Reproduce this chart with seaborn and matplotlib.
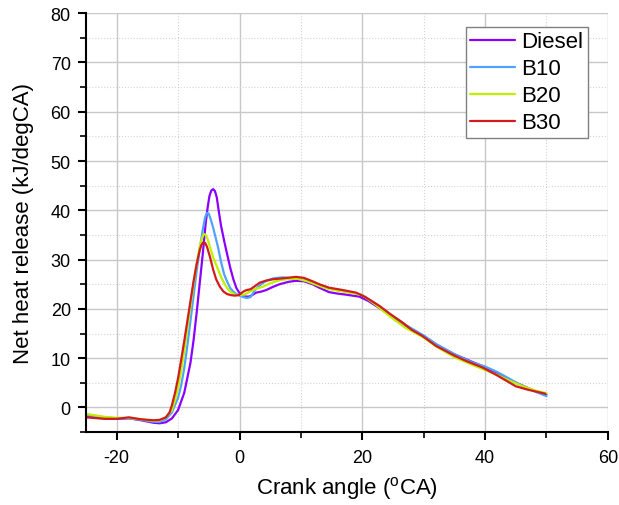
import matplotlib
matplotlib.use("Agg")
import matplotlib.pyplot as plt
import seaborn as sns
import pandas as pd
from matplotlib.ticker import MultipleLocator

# --- Data (crank angle, net heat release) ---
diesel_x = [-25, -22, -20, -18, -16, -14, -13, -12, -11, -10, -9, -8, -7.5, -7, -6.5, -6, -5.5, -5.2,
            -4.9, -4.6, -4.3, -4.0, -3.7, -3.4, -3.0, -2.5, -2, -1.5, -1, -0.5, 0, 0.5, 1, 1.6, 2.2,
            2.7, 3.5, 4.3, 5.5, 6.5, 8, 9.2, 10.5, 11.9, 13, 14.6, 16, 17.3, 19.5, 21, 23, 25, 27,
            30, 32, 35, 38, 40, 42, 44, 46, 48, 50]
diesel_y = [-1.8, -2.2, -2.3, -2.2, -2.6, -3.1, -3.2, -3.0, -2.2, -0.5, 3.0, 9.0, 13.5, 19, 25, 31, 37.5,
            40.5, 42.9, 44.0, 44.3, 43.9, 42.6, 40, 36.8, 33.8, 31, 28.3, 26, 24.2, 23.2, 22.7, 22.5,
            22.5, 22.9, 23.3, 23.5, 23.8, 24.5, 25, 25.5, 25.7, 25.6, 25.0, 24.3, 23.4, 23.1, 22.9,
            22.5, 21.6, 20, 18.3, 16.6, 14.5, 12.8, 10.8, 9.2, 8.2, 7.0, 5.6, 4.5, 3.4, 2.6]

b10_x = [-25, -22, -20, -18, -16, -14, -13, -12, -11, -10, -9.5, -9, -8.5, -8, -7.5, -7, -6.5, -6,
         -5.6, -5.3, -5.0, -4.7, -4.3, -3.5, -3, -2.5, -2, -1.5, -1, -0.5, 0, 0.6, 1.2, 1.8, 2.5,
         3.5, 4.5, 5.5, 7, 9, 10.5, 12, 14, 16, 18, 20, 22, 25, 27, 30, 32, 35, 38, 40, 42, 44,
         46, 48, 50]
b10_y = [-1.5, -2.0, -2.2, -2.2, -2.5, -2.9, -2.9, -2.4, -1.0, 2, 4.5, 8, 12.5, 17.5, 22.5, 27.5, 32,
         36, 38.6, 39.5, 39.3, 38.2, 36.5, 32.5, 29.5, 27, 25.5, 24.2, 23.5, 23, 22.7, 22.4, 22.2,
         22.4, 23.8, 25, 25.8, 26.2, 26.4, 26.2, 25.9, 25.3, 24.4, 23.8, 23.4, 22.8, 21.2, 18.5,
         16.8, 14.6, 12.9, 10.8, 9.1, 8.3, 7.2, 5.8, 4.4, 3.3, 2.3]

b20_x = [-25, -22, -20, -18, -16, -14, -13, -12, -11, -10.5, -10, -9.5, -9, -8.5, -8, -7.5, -7,
         -6.5, -6.1, -5.8, -5.5, -5.2, -4.8, -4.3, -3.5, -3, -2.5, -2, -1.5, -1, -0.5, 0, 0.8,
         1.5, 2.5, 3.8, 5, 6.5, 8, 9.5, 11, 12.5, 14, 16, 18, 20, 22, 25, 27, 30, 32, 35, 38,
         40, 42, 44, 46, 48, 50]
b20_y = [-1.3, -1.9, -2.1, -2.1, -2.4, -2.7, -2.6, -2.0, -0.5, 1.5, 4, 7.5, 11.5, 16, 20.5, 25, 29,
         32.5, 34.4, 35.2, 35.0, 34.2, 32.5, 30.5, 28, 26.5, 25.2, 24.2, 23.5, 23.1, 22.8, 22.8,
         22.9, 23.4, 24.0, 24.5, 25.2, 25.8, 26.1, 26.1, 25.6, 24.9, 24.2, 23.7, 23.3, 22.8, 21.0,
         18.0, 16.2, 14.2, 12.4, 10.2, 8.6, 7.6, 6.6, 5.4, 4.4, 3.5, 2.9]

b30_x = [-25, -22, -20, -18, -16, -14, -13, -12, -11.4, -11, -10.5, -10, -9.5, -9, -8.5, -8, -7.5,
         -7, -6.5, -6.2, -5.9, -5.6, -5.3, -4.8, -4.3, -3.8, -3.2, -2.6, -2, -1.4, -0.8, -0.1, 0.6,
         1.1, 1.8, 2.5, 3.25, 4.2, 5.4, 7, 9.2, 10.5, 11.9, 13, 14.6, 16.5, 19, 20.5, 22.8, 24.5,
         26.6, 28, 29.8, 32, 35.2, 37, 39.6, 41.7, 43.5, 45, 47, 49.8]
b30_y = [-2.0, -2.3, -2.3, -2.0, -2.4, -2.6, -2.5, -2.0, -1.0, 0.5, 3, 6, 9.7, 13.5, 17.5, 21.5, 25.5,
         29, 31.8, 33.0, 33.5, 33.4, 32.6, 30.5, 28, 26, 24.5, 23.5, 23.0, 22.8, 22.7, 22.8, 23.5,
         23.8, 24, 24.6, 25.3, 25.7, 26, 26.2, 26.5, 26.3, 25.6, 25.0, 24.3, 23.9, 23.3, 22.4,
         20.6, 19.0, 17.2, 15.8, 14.5, 12.5, 10.4, 9.4, 8.1, 6.7, 5.4, 4.3, 3.6, 2.8]

fuels = ["Diesel", "B10", "B20", "B30"]
colors = ["#8B00FF", "#4FA3FF", "#BEF000", "#D01C1C"]

frames = []
for name, xs, ys in zip(fuels, [diesel_x, b10_x, b20_x, b30_x], [diesel_y, b10_y, b20_y, b30_y]):
    frames.append(pd.DataFrame({"angle": xs, "heat": ys, "fuel": name}))
df = pd.concat(frames, ignore_index=True)

sns.set_style("ticks")
plt.rcParams['font.family'] = ['Liberation Sans', 'DejaVu Sans']
plt.rcParams['axes.unicode_minus'] = False
plt.rcParams['text.color'] = 'black'
plt.rcParams['axes.labelcolor'] = 'black'

fig = plt.figure(figsize=(6.19, 5.06), dpi=100)
ax = fig.add_axes([0.139, 0.144, 0.843, 0.828])

sns.lineplot(data=df, x="angle", y="heat", hue="fuel", hue_order=fuels,
             palette=colors, sort=False, estimator=None, linewidth=1.6, ax=ax)

ax.set_xlim(-25, 60)
ax.set_ylim(-5, 80)
ax.xaxis.set_major_locator(MultipleLocator(20))
ax.xaxis.set_minor_locator(MultipleLocator(10))
ax.yaxis.set_major_locator(MultipleLocator(10))
ax.yaxis.set_minor_locator(MultipleLocator(5))
ax.grid(which="major", color="#c8c8c8", linewidth=1.0, linestyle="-")
ax.grid(which="minor", color="#d4d4d4", linewidth=0.8, linestyle=":")
ax.set_axisbelow(True)

for side in ["top", "right"]:
    ax.spines[side].set_visible(False)
for side in ["left", "bottom"]:
    ax.spines[side].set_linewidth(1.5)
    ax.spines[side].set_color("black")

ax.tick_params(which="major", direction="out", length=6, width=1.5, labelsize=13,
               colors="black", labelcolor="black")
ax.tick_params(axis="x", which="major", pad=6)
ax.tick_params(axis="y", which="major", pad=5)
ax.tick_params(which="minor", direction="out", length=4, width=1.2, colors="black")

ax.set_xlabel("Crank angle ($^{\\mathregular{o}}$CA)", fontsize=16, color="black")
ax.set_ylabel("Net heat release (kJ/degCA)", fontsize=16, color="black")
ax.xaxis.set_label_coords(0.5, -0.1)
ax.yaxis.set_label_coords(-0.1, 0.5)

leg = ax.legend(loc="upper right", bbox_to_anchor=(0.962, 0.967), fontsize=16, frameon=True,
                fancybox=False, edgecolor="#808080", handlelength=2.0, handletextpad=0.3,
                labelspacing=0.27, borderpad=0.2, borderaxespad=0)
leg.get_frame().set_linewidth(1.0)
leg.get_frame().set_alpha(1)
for t in leg.get_texts():
    t.set_color("black")

fig.savefig("out.png", dpi=100)
